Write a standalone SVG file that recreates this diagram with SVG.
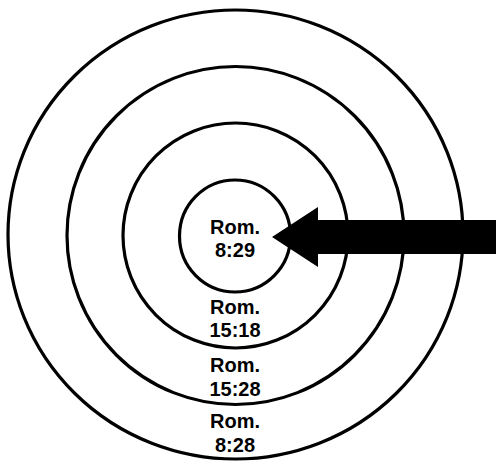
<svg xmlns="http://www.w3.org/2000/svg" width="496" height="466" viewBox="0 0 496 466">
<style>
.ring{fill:none;stroke:#000;stroke-width:3.2}
.lbl{font-family:"Liberation Sans",Arial,sans-serif;font-weight:bold;font-size:20px;fill:#000;text-anchor:middle}
</style>
<rect width="496" height="466" fill="#fff"/>
<g id="ring4"><ellipse class="ring" cx="235.5" cy="234.5" rx="227.5" ry="224.5"/>
<text class="lbl" x="235" y="428">Rom.</text><text class="lbl" x="235" y="452">8:28</text></g>
<g id="ring3"><ellipse class="ring" cx="235.5" cy="235.5" rx="168.5" ry="169"/>
<text class="lbl" x="235" y="372">Rom.</text><text class="lbl" x="235" y="396">15:28</text></g>
<g id="ring2"><ellipse class="ring" cx="235.5" cy="235.5" rx="112.5" ry="112.5"/>
<text class="lbl" x="235" y="314">Rom.</text><text class="lbl" x="235" y="337">15:18</text></g>
<g id="ring1"><ellipse class="ring" cx="235" cy="236" rx="55.5" ry="56"/>
<text class="lbl" x="235" y="234">Rom.</text><text class="lbl" x="235" y="257">8:29</text></g>
<g id="connectors"><polygon points="272,237 318,207 318,220 496,220 496,254 318,254 318,267" fill="#000"/></g>
</svg>
